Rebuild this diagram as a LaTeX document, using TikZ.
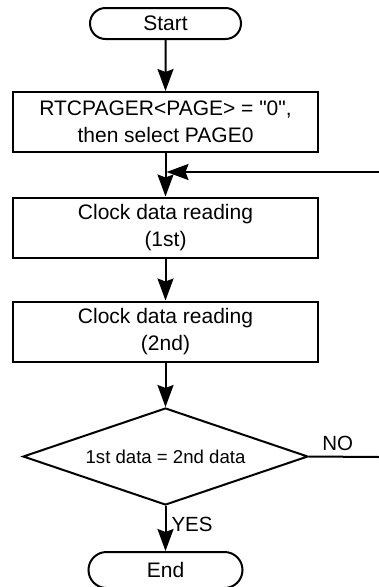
\documentclass[tikz,border=0pt]{standalone}
\usepackage{fontspec}
\setmainfont{Liberation Sans}[Ligatures=TeXOff]
\usetikzlibrary{shapes.misc,shapes.geometric,arrows.meta}
\begin{document}
\begin{tikzpicture}[x=1pt,y=-1pt,
  line width=2pt,
  arr/.style={-{Stealth[length=22pt,width=16pt,inset=3pt]}},
  term/.style={draw,rounded rectangle,minimum width=151pt,minimum height=31pt,inner sep=0pt,font=\fontsize{21}{27}\selectfont},
  proc/.style={draw,rectangle,minimum width=305pt,minimum height=60pt,inner sep=0pt,align=center,font=\fontsize{21}{27}\selectfont},
  dec/.style={draw,diamond,aspect=2.94,minimum width=285pt,minimum height=97pt,inner sep=0pt,font=\fontsize{18.6}{22}\selectfont},
  lbl/.style={font=\fontsize{20.5}{24}\selectfont,inner sep=0pt}]
\useasboundingbox (0,0) rectangle (378,587);
\node[term] (start) at (165.5,23.5) {Start};
\node[proc] (p1) at (165.5,122) {RTCPAGER<PAGE> = "0",\\then select PAGE0};
\node[proc] (p2) at (165.5,227.5) {Clock data reading\\(1st)};
\node[proc] (p3) at (165.5,331.5) {Clock data reading\\(2nd)};
\node[dec] (dia) at (165.5,456.5) {1st data = 2nd data};
\node[term,minimum width=154pt,minimum height=36pt] (fin) at (165.5,570) {End};
\coordinate (merge) at (165.5,172);
\coordinate (loopin) at (379,172);
\coordinate (noend) at (379,457);
\draw[arr] (start) -- (p1);
\draw[arr] (p1) -- (p2);
\draw[arr] (p2) -- (p3);
\draw[arr] (p3) -- (dia);
\draw[arr] (dia.south) -- node[lbl,anchor=west,xshift=5pt,yshift=4pt] (yes) {YES} (fin.north);
\draw (dia.east) -- node[lbl,anchor=south,pos=0.41,yshift=5pt] (no) {NO} (noend);
\draw[arr,shorten >=1pt] (loopin) -- (merge);
\end{tikzpicture}
\end{document}
